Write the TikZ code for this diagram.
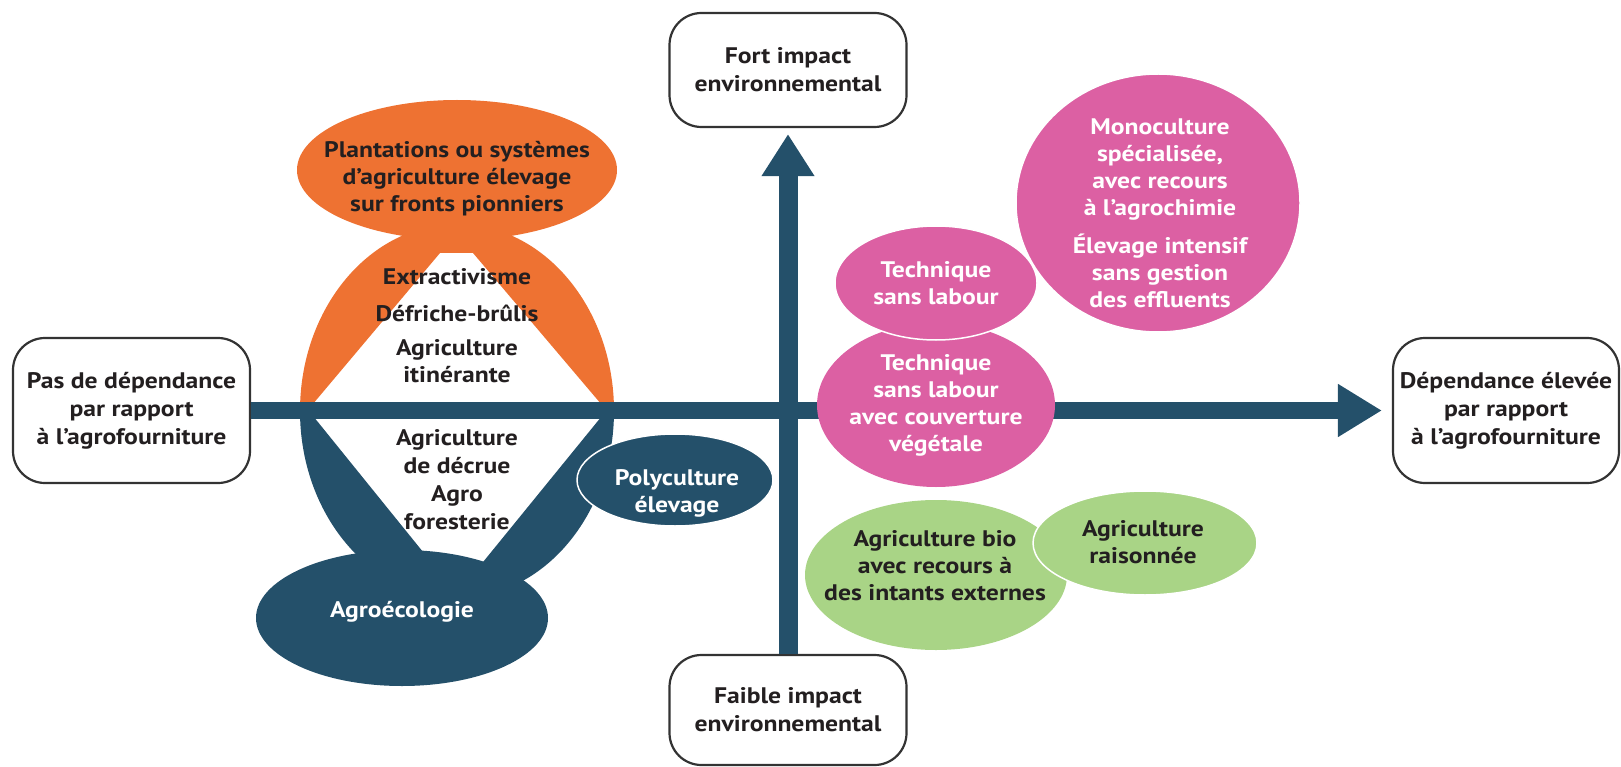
\documentclass[tikz,border=0pt]{standalone}
\usepackage{fontspec}
\setmainfont{PT Sans}[FakeStretch=1.14]
\usetikzlibrary{arrows.meta,shapes.geometric}
\definecolor{orng}{HTML}{EE7232}
\definecolor{blu}{HTML}{24506A}
\definecolor{pnk}{HTML}{DC60A3}
\definecolor{grn}{HTML}{A9D486}
\definecolor{dark}{HTML}{231F20}
\definecolor{boxc}{HTML}{333333}
\begin{document}
\begin{tikzpicture}[x=1pt,y=-1pt,
  txt/.style={font=\bfseries\fontsize{22.5}{27}\selectfont, align=center, text=dark, inner sep=0pt},
  wtxt/.style={txt, text=white},
  ell/.style={ellipse, inner sep=0pt},
  outl/.style={draw=white, line width=1.5pt},
  axbox/.style={draw=boxc, line width=2.2pt, rounded corners=32pt, fill=white, align=center,
    font=\bfseries\fontsize{22.5}{28}\selectfont, text=dark, inner sep=0pt},
  haxis/.style={line width=17pt, draw=blu, -{Triangle[length=44pt,width=50pt]}, shorten >=10pt},
  vaxis/.style={line width=19pt, draw=blu, -{Triangle[length=42pt,width=50pt]}, shorten >=6pt},
]
\useasboundingbox (0,0) rectangle (1621,767);

% orange group
\fill[orng] (457,170) ellipse [x radius=160, y radius=70];
\fill[orng, even odd rule] (300,411) .. controls (300,308) and (370,224) .. (457,224)
  .. controls (544,224) and (614,308) .. (614,411) -- cycle
  (307,411) -- (440,253) -- (473,253) -- (607,411) -- cycle;

% dark blue group
\fill[blu, even odd rule] (300,411) .. controls (300,514) and (370,598) .. (457,598)
  .. controls (544,598) and (614,514) .. (614,411) -- cycle
  (309,411) -- (606,411) -- (457,594) -- cycle;
\node[ell, fill=blu, minimum width=292pt, minimum height=136pt] (agroeco) at (402,618) {};
\node[ell, fill=blu, outl, minimum width=196pt, minimum height=92pt] (poly) at (675,480) {};

% boxes
\node[axbox, minimum width=237pt, minimum height=145pt] (lbox) at (131.5,410.5)
  {Pas de dépendance\\par rapport\\à l'agrofourniture};
\node[axbox, minimum width=226pt, minimum height=145pt] (rbox) at (1506,410.5)
  {Dépendance élevée\\par rapport\\à l’agrofourniture};
\node[axbox, minimum width=237pt, minimum height=114pt] (tbox) at (788,70)
  {Fort impact\\environnemental};
\node[axbox, minimum width=237pt, minimum height=110pt] (bbox) at (788,710)
  {Faible impact\\environnemental};

% axes
\draw[haxis] (lbox) -- (rbox);
\draw[vaxis] (bbox) -- (tbox);

% pink group
\node[ell, fill=pnk, minimum width=238pt, minimum height=164pt] (couv) at (936,405) {};
\node[ell, fill=pnk, outl, minimum width=202pt, minimum height=114pt] (tsl) at (936,283) {};
\node[ell, fill=pnk, outl, minimum width=284pt, minimum height=258pt] (mono) at (1158,203) {};

% green group
\node[ell, fill=grn, minimum width=262pt, minimum height=150pt] (bio) at (936,575) {};
\node[ell, fill=grn, outl, minimum width=224pt, minimum height=104pt] (rais) at (1145,543) {};

% texts
\node[txt] (tplant) at (457,179) {Plantations ou systèmes\\d’agriculture élevage\\sur fronts pionniers};
\node[txt] (textr) at (457,277) {Extractivisme};
\node[txt] (tdef) at (457,313) {Défriche-brûlis};
\node[txt] (titin) at (457,361) {Agriculture\\itinérante};
\node[txt, font=\bfseries\fontsize{22.5}{28}\selectfont] (tdecr) at (457,480) {Agriculture\\de décrue\\Agro\\foresterie};
\node[wtxt] (tagro) at (402,612) {Agroécologie};
\node[wtxt] (tpoly) at (677,493) {Polyculture\\élevage};
\node[wtxt] (ttsl) at (936,283) {Technique\\sans labour};
\node[wtxt] (tcouv) at (936,405) {Technique\\sans labour\\avec couverture\\végétale};
\node[wtxt] (tmono) at (1160,213) {Monoculture\\spécialisée,\\avec recours\\à l’agrochimie\\[11pt]Élevage intensif\\sans gestion\\des effluents};
\node[txt] (tbio) at (935,566) {Agriculture bio\\avec recours à\\des intants externes};
\node[txt] (trais) at (1143,542) {Agriculture\\raisonnée};
\end{tikzpicture}
\end{document}
